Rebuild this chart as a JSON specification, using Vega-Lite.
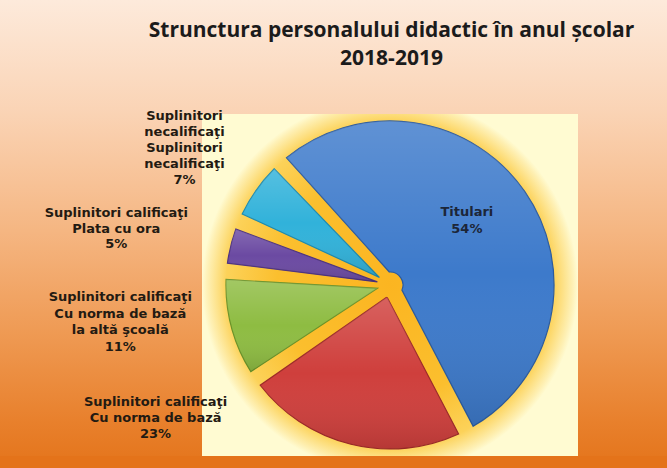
{
  "$schema": "https://vega.github.io/schema/vega-lite/v6.json",
  "background": "#e4731a",
  "padding": 0,
  "spacing": 0,
  "bounds": "flush",
  "config": {"view": {"stroke": null}, "concat": {"spacing": 0}},
  "vconcat": [
    {
      "width": 667, "height": 114,
      "data": {"values": [{}]},
      "layer": [
        {
          "mark": {"type": "rect", "color": {"gradient": "linear", "x1": 0, "y1": 0, "x2": 0, "y2": 1,
            "stops": [{"offset": 0, "color": "#fdeadb"}, {"offset": 1, "color": "#fad3b4"}]}}
        },
        {
          "mark": {"type": "text", "text": ["Strunctura personalului didactic în anul școlar", "2018-2019"],
            "font": "Open Sans", "fontSize": 21, "fontWeight": "bold", "color": "#1b1b1b",
            "lineHeight": 28, "align": "center", "baseline": "middle", "dx": 58, "dy": -26}
        }
      ]
    },
    {
      "bounds": "flush",
      "spacing": 0,
      "hconcat": [
        {
          "width": 202, "height": 342,
          "data": {"values": [{}]},
          "mark": {"type": "rect", "color": {"gradient": "linear", "x1": 0, "y1": 0, "x2": 0, "y2": 1,
            "stops": [{"offset": 0, "color": "#fad3b4"}, {"offset": 0.34, "color": "#f5b682"}, {"offset": 0.63, "color": "#ef9b55"}, {"offset": 0.9, "color": "#e8802c"}, {"offset": 1, "color": "#e5771f"}]}}
        },
        {
          "width": 376, "height": 342,
          "data": {"values": [
            {"cat": "Titulari", "ord": 1, "value": 54, "label": "Titulari\n54%"},
            {"cat": "Cu norma de bază", "ord": 2, "value": 23, "label": "Suplinitori calificaţi\nCu norma de bază\n23%"},
            {"cat": "Cu norma de bază la altă şcoală", "ord": 3, "value": 11, "label": "Suplinitori calificaţi\nCu norma de bază\nla altă şcoală\n11%"},
            {"cat": "Plata cu ora", "ord": 4, "value": 5, "label": "Suplinitori calificaţi\nPlata cu ora\n5%"},
            {"cat": "Suplinitori necalificaţi", "ord": 5, "value": 7, "label": "Suplinitori\nnecalificaţi\nSuplinitori\nnecalificaţi\n7%"}
          ]},
          "encoding": {
            "theta": {"field": "value", "type": "quantitative", "stack": true, "scale": {"range": [-0.733, 5.550]}},
            "order": {"field": "ord", "type": "quantitative"}
          },
          "layer": [
            {
              "data": {"values": [{}]},
              "mark": {"type": "rect", "color": {"gradient": "radial", "x1": 0.5, "y1": 0.5, "r1": 0, "x2": 0.5, "y2": 0.5, "r2": 0.5,
                "stops": [{"offset": 0, "color": "#fbb521"}, {"offset": 0.6, "color": "#fbbf2e"}, {"offset": 0.87, "color": "#fcd259"}, {"offset": 0.97, "color": "#fef0b4"}, {"offset": 1, "color": "#fffbd2"}]}},
              "encoding": {"theta": null, "order": null}
            },
            {
              "mark": {"type": "arc", "radius": 164, "innerRadius": 13, "padAngle": 0.1, "strokeWidth": 1.2},
              "encoding": {
                "color": {"field": "cat", "type": "nominal", "legend": null,
                  "scale": {"domain": ["Titulari", "Cu norma de bază", "Cu norma de bază la altă şcoală", "Plata cu ora", "Suplinitori necalificaţi"],
                            "range": ["#3d7acb", "#cf3f3c", "#8ebc42", "#6b4aa2", "#31b2da"]}},
                "stroke": {"field": "cat", "type": "nominal", "legend": null,
                  "scale": {"domain": ["Titulari", "Cu norma de bază", "Cu norma de bază la altă şcoală", "Plata cu ora", "Suplinitori necalificaţi"],
                            "range": ["#2a5a9e", "#9e2a28", "#6a9228", "#4e3380", "#1d8aae"]}}
              }
            },
            {
              "mark": {"type": "arc", "radius": 164, "innerRadius": 13, "padAngle": 0.1, "strokeWidth": 0,
                "color": {"gradient": "linear", "x1": 0, "y1": 0, "x2": 0, "y2": 1,
                  "stops": [{"offset": 0, "color": "rgba(255,255,255,0.18)"}, {"offset": 0.5, "color": "rgba(255,255,255,0)"}, {"offset": 1, "color": "rgba(0,0,0,0.12)"}]}},
              "encoding": {"detail": {"field": "cat"}}
            },
            {
              "mark": {"type": "text", "radius": 106, "thetaOffset": -0.152, "font": "DejaVu Sans", "fontSize": 13, "fontWeight": "bold", "lineBreak": "\n", "lineHeight": 16.5, "color": "#1c2638", "align": "center", "baseline": "middle"},
              "encoding": {"detail": {"field": "cat"}, "text": {"condition": {"test": "datum.cat === 'Titulari'", "field": "label"}, "value": ""}}
            },
            {
              "mark": {"type": "text", "radius": 266, "thetaOffset": 0.070, "font": "DejaVu Sans", "fontSize": 13, "fontWeight": "bold", "lineBreak": "\n", "lineHeight": 16, "color": "#231a12", "align": "center", "baseline": "middle"},
              "encoding": {"detail": {"field": "cat"}, "text": {"condition": {"test": "datum.cat === 'Suplinitori necalificaţi'", "field": "label"}, "value": ""}}
            },
            {
              "mark": {"type": "text", "radius": 283, "thetaOffset": 0.016, "font": "DejaVu Sans", "fontSize": 13, "fontWeight": "bold", "lineBreak": "\n", "lineHeight": 15.5, "color": "#231a12", "align": "center", "baseline": "middle"},
              "encoding": {"detail": {"field": "cat"}, "text": {"condition": {"test": "datum.cat === 'Plata cu ora'", "field": "label"}, "value": ""}}
            },
            {
              "mark": {"type": "text", "radius": 270, "thetaOffset": 0.217, "font": "DejaVu Sans", "fontSize": 13, "fontWeight": "bold", "lineBreak": "\n", "lineHeight": 16.5, "color": "#231a12", "align": "center", "baseline": "middle"},
              "encoding": {"detail": {"field": "cat"}, "text": {"condition": {"test": "datum.cat === 'Cu norma de bază la altă şcoală'", "field": "label"}, "value": ""}}
            },
            {
              "mark": {"type": "text", "radius": 262, "thetaOffset": 0.867, "font": "DejaVu Sans", "fontSize": 13, "fontWeight": "bold", "lineBreak": "\n", "lineHeight": 16, "color": "#231a12", "align": "center", "baseline": "middle"},
              "encoding": {"detail": {"field": "cat"}, "text": {"condition": {"test": "datum.cat === 'Cu norma de bază'", "field": "label"}, "value": ""}}
            }
          ]
        },
        {
          "width": 89, "height": 342,
          "data": {"values": [{}]},
          "mark": {"type": "rect", "color": {"gradient": "linear", "x1": 0, "y1": 0, "x2": 0, "y2": 1,
            "stops": [{"offset": 0, "color": "#fad3b4"}, {"offset": 0.34, "color": "#f5b682"}, {"offset": 0.63, "color": "#ef9b55"}, {"offset": 0.9, "color": "#e8802c"}, {"offset": 1, "color": "#e5771f"}]}}
        }
      ]
    }
  ]
}
